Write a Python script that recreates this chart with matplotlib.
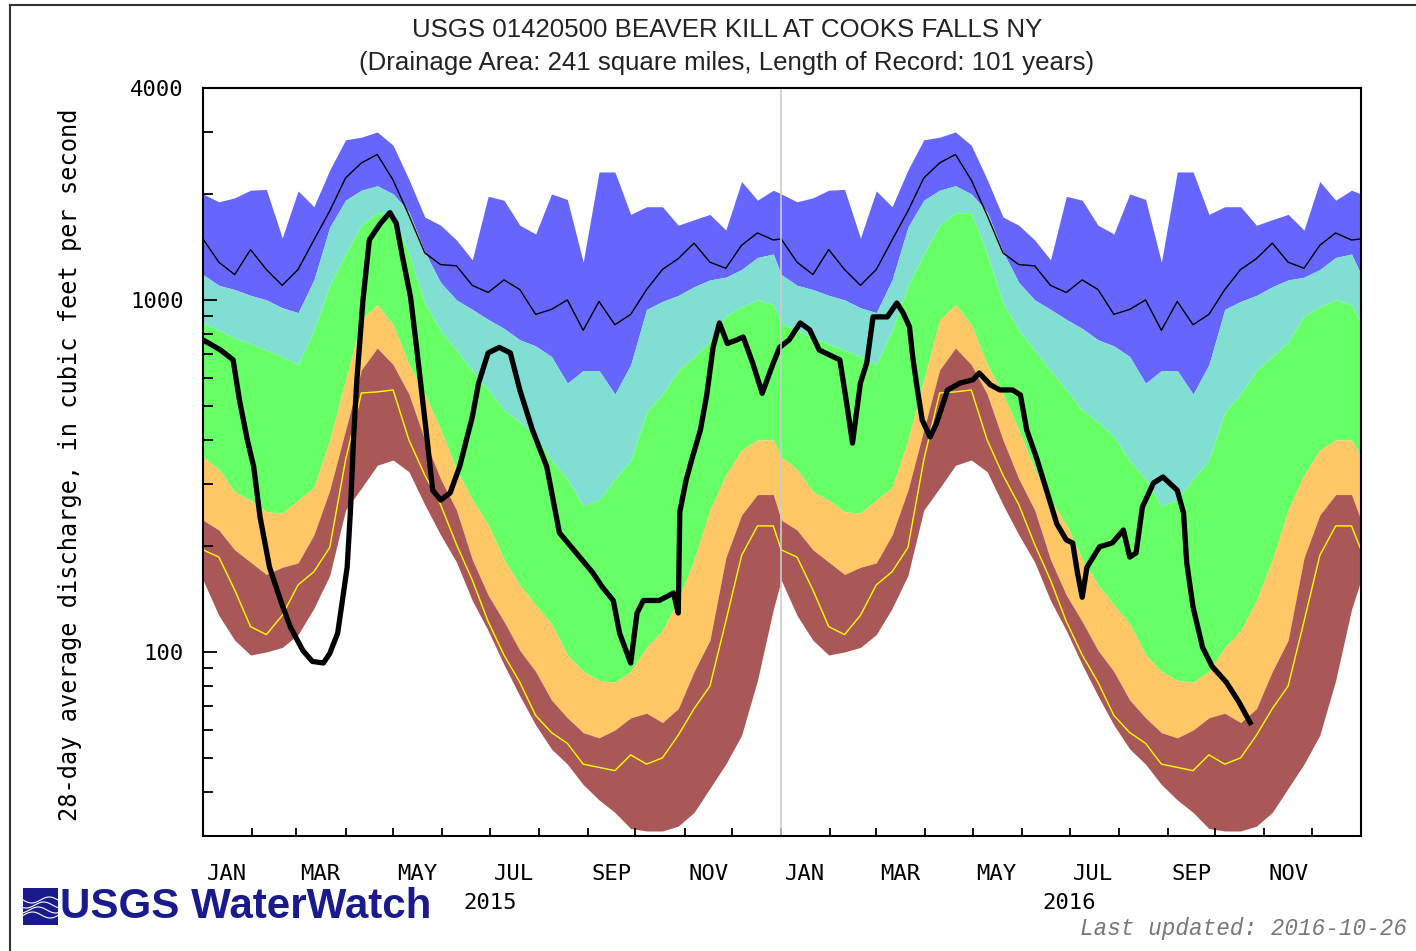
import numpy as np
import matplotlib
matplotlib.use("Agg")
import matplotlib.pyplot as plt
import matplotlib.dates as mdates
from matplotlib.ticker import FixedLocator, NullFormatter, FuncFormatter
from matplotlib.lines import Line2D
from matplotlib.patches import Rectangle

# 28-day average discharge statistics, every 10 days of the year (cfs)
clim_days = list(range(0, 361, 10))
max_flow = [2000, 1900, 1950, 2050, 2060, 1500, 2040, 1840, 2340, 2850, 2900, 3000, 2750,
            2200, 1720, 1630, 1480, 1300, 1970, 1920, 1630, 1540, 2000, 1930, 1280, 2310,
            2310, 1750, 1840, 1840, 1630, 1690, 1750, 1580, 2170, 1920, 2050]
p90 = [1180, 1100, 1070, 1030, 1000, 950, 920, 1140, 1610, 1920, 2050, 2110, 2000, 1780,
       1370, 1120, 1000, 940, 880, 830, 770, 740, 690, 580, 630, 630, 540, 655, 940, 990,
       1030, 1090, 1140, 1160, 1220, 1320, 1350]
p75 = [860, 820, 780, 750, 720, 690, 655, 820, 1100, 1350, 1630, 1770, 1770, 1350, 980,
       820, 720, 630, 555, 487, 450, 410, 350, 310, 260, 270, 310, 350, 480, 540, 630, 690,
       760, 900, 955, 1000, 970]
p25 = [358, 330, 285, 270, 250, 248, 270, 294, 400, 593, 877, 970, 850, 655, 540, 427, 330,
       270, 230, 183, 155, 136, 120, 98, 88, 83, 82, 88, 103, 115, 140, 183, 253, 318, 375,
       400, 400]
p10 = [237, 222, 195, 180, 166, 174, 179, 215, 288, 427, 633, 730, 655, 540, 400, 310, 253,
       183, 145, 122, 101, 88, 73, 65, 59, 57, 60, 65, 67, 63, 69, 88, 108, 185, 245, 280, 280]
min_flow = [160, 127, 108, 98, 100, 103, 112, 133, 165, 253, 292, 339, 351, 325, 262, 215,
            180, 140, 115, 92, 75, 62, 53, 48, 42, 38, 35, 31.5, 31, 31, 32, 35, 41, 48, 58,
            83, 132]
p05 = [195, 186, 150, 118, 112, 127, 155, 169, 198, 351, 544, 548, 555, 400, 318, 262, 202,
       160, 122, 98, 82, 66, 59, 55, 48, 47, 46, 51, 48, 50, 58, 69, 80, 122, 188, 228, 228]
mean_flow = [1490, 1280, 1180, 1390, 1220, 1100, 1220, 1480, 1790, 2220, 2450, 2590, 2190,
             1740, 1360, 1260, 1250, 1100, 1050, 1140, 1070, 910, 940, 1000, 820, 990, 850,
             910, 1070, 1220, 1310, 1450, 1280, 1230, 1430, 1550, 1480]

# observed 28-day average flow, days since 2015-01-01
flow_days = [0, 11, 19, 23, 28, 32, 36, 42, 49, 55, 63, 69, 76, 80, 85, 88, 91, 93, 95, 97,
             101, 105, 112, 118, 122, 126, 131, 135, 141, 145, 150, 156, 162, 170, 174, 180,
             187, 194, 200, 208, 217, 225, 234, 246, 252, 259, 263, 270, 274, 278, 288, 297,
             300, 301, 305, 309, 314, 318, 322, 326, 331, 337, 341, 347, 353, 360, 364, 370,
             377, 383, 389, 398, 402, 406, 410, 415, 419, 423, 432, 438, 442, 446, 448, 451,
             454, 459, 463, 470, 478, 486, 490, 497, 503, 511, 516, 520, 526, 533, 539, 545,
             549, 552, 555, 558, 566, 574, 581, 585, 589, 593, 600, 606, 615, 619, 621, 625,
             631, 637, 646, 654, 661]
flow_vals = [770, 721, 676, 520, 400, 336, 242, 174, 140, 118, 101, 94, 93, 99, 113, 140, 174,
             248, 400, 581, 1000, 1481, 1650, 1770, 1650, 1320, 1020, 721, 419, 288, 270, 283,
             336, 465, 581, 707, 733, 707, 555, 427, 336, 218, 195, 168, 153, 140, 113, 93,
             129, 140, 140, 147, 129, 250, 308, 358, 427, 537, 733, 860, 752, 770, 785, 662,
             543, 662, 733, 770, 860, 822, 721, 689, 676, 520, 392, 581, 662, 895, 895, 980,
             918, 838, 689, 555, 456, 408, 446, 555, 581, 593, 620, 574, 555, 555, 537, 427,
             358, 283, 231, 208, 204, 168, 143, 174, 199, 204, 222, 186, 191, 258, 302, 314,
             288, 248, 179, 134, 103, 91, 82, 72, 63]

base = np.datetime64("2015-01-01")


def two_years(vals):
    # same day-of-year statistics repeated for 2015 and 2016
    d = np.array(clim_days)
    days = np.concatenate([d, d + 365, [731]])
    v = np.concatenate([vals, vals, [vals[0]]])
    return base + days.astype("timedelta64[D]"), v


W, H = 1416, 951
fig = plt.figure(figsize=(W / 100, H / 100), dpi=100)
ax = fig.add_axes([203 / W, 1 - 836 / H, (1361 - 203) / W, (836 - 88) / H])

x, vmax = two_years(max_flow)
_, v90 = two_years(p90)
_, v75 = two_years(p75)
_, v25 = two_years(p25)
_, v10 = two_years(p10)
_, vmin = two_years(min_flow)
_, v05 = two_years(p05)
_, vmean = two_years(mean_flow)

ax.fill_between(x, v90, vmax, color="#6666ff", lw=0)
ax.fill_between(x, v75, v90, color="#80dfd2", lw=0)
ax.fill_between(x, v25, v75, color="#66ff66", lw=0)
ax.fill_between(x, v10, v25, color="#ffc766", lw=0)
ax.fill_between(x, vmin, v10, color="#aa5757", lw=0)
ax.plot(x, v05, color="#ffff00", lw=1.0)
ax.plot(x, vmean, color="black", lw=1.0)

fx = base + np.array(flow_days).astype("timedelta64[D]")
ax.plot(fx, flow_vals, color="black", lw=3.8, solid_joinstyle="round")

ax.axvline(np.datetime64("2016-01-01"), color="#cccccc", lw=1.2)

ax.set_yscale("log")
ax.set_ylim(30, 4000)
ax.set_xlim(np.datetime64("2015-01-01"), np.datetime64("2017-01-01"))

mono = "DejaVu Sans Mono"
ax.yaxis.set_major_locator(FixedLocator([100, 1000, 4000]))
ax.yaxis.set_major_formatter(FuncFormatter(lambda v, p: "%d" % v))
ax.yaxis.set_minor_locator(FixedLocator([40, 50, 60, 70, 80, 90, 200, 300, 400, 500, 600,
                                         700, 800, 900, 2000, 3000]))
ax.yaxis.set_minor_formatter(NullFormatter())
ax.tick_params(axis="y", which="major", direction="in", length=10, width=1.3, pad=14,
               labelsize=16)
ax.tick_params(axis="y", which="minor", direction="in", length=7, width=1.3)

ax.xaxis.set_major_locator(mdates.MonthLocator())
ax.xaxis.set_major_formatter(NullFormatter())
ax.xaxis.set_minor_locator(mdates.MonthLocator(bymonth=[1, 3, 5, 7, 9, 11], bymonthday=16))
ax.xaxis.set_minor_formatter(FuncFormatter(
    lambda v, p: mdates.num2date(v).strftime("%b").upper()))
ax.tick_params(axis="x", which="major", direction="in", length=6, width=1.3)
ax.tick_params(axis="x", which="minor", length=0, pad=20, labelsize=16)
for lab in ax.get_xticklabels(which="both") + ax.get_yticklabels():
    lab.set_fontfamily(mono)

for yr in ["2015", "2016"]:
    ax.text(np.datetime64(yr + "-07-01"), -0.09, yr, transform=ax.get_xaxis_transform(),
            ha="center", va="center", fontsize=16, family=mono)

for s in ax.spines.values():
    s.set_linewidth(1.5)

fig.text(70 / W, 1 - 465 / H, "28-day average discharge, in cubic feet per second",
         rotation=90, ha="center", va="center", fontsize=17, family=mono)

fig.text(727 / W, 1 - 30 / H, "USGS 01420500 BEAVER KILL AT COOKS FALLS NY",
         ha="center", va="center", fontsize=18.6, family="Liberation Sans", color="#222222")
fig.text(727 / W, 1 - 63 / H,
         "(Drainage Area: 241 square miles, Length of Record: 101 years)",
         ha="center", va="center", fontsize=18.6, family="Liberation Sans", color="#222222")

fig.text(1080 / W, 1 - 929 / H, "Last updated: 2016-10-26", ha="left", va="center",
         fontsize=16.3, family="Liberation Mono", style="italic", color="#777777")

# USGS WaterWatch logo
fig.add_artist(Rectangle((23 / W, 1 - 925 / H), 35 / W, 37 / H, transform=fig.transFigure,
                         color="#1a1a8c", lw=0))
t = np.linspace(0, 1, 40)
for k in range(4):
    fig.add_artist(Line2D((23 + 35 * t) / W,
                          1 - (900 + 5 * k + 3 * np.sin(2 * np.pi * t + k)) / H,
                          transform=fig.transFigure, color="white", lw=0.8))
fig.text(60 / W, 1 - 907 / H, "USGS WaterWatch", ha="left", va="center", fontsize=30.3,
         weight="bold", family="Liberation Sans", color="#1a1a8c")

# outer frame
fig.add_artist(Line2D([10 / W, 10 / W], [0, 1 - 5 / H], transform=fig.transFigure,
                      color="#333333", lw=1.5))
fig.add_artist(Line2D([10 / W, 1], [1 - 5 / H, 1 - 5 / H], transform=fig.transFigure,
                      color="#333333", lw=1.5))

fig.savefig("out.png", dpi=100)
